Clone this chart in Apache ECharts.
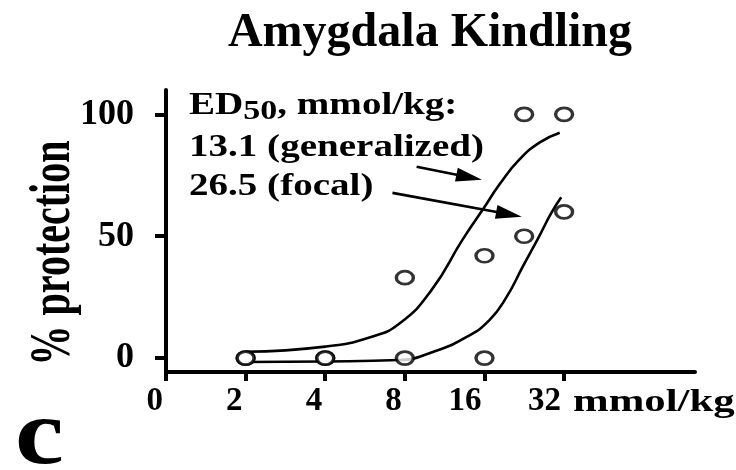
<!DOCTYPE html>
<html><head><meta charset="utf-8">
<script src="https://cdn.jsdelivr.net/npm/echarts@6/dist/echarts.min.js"></script>
<style>html,body{margin:0;padding:0;background:#fff}#c{width:736px;height:470px}</style>
</head><body><div id="c"></div>
<script>
// ---- data ----
const xTicks = [1, 2, 4, 8, 16, 32];
const xTickLabels = ['0', '2', '4', '8', '16', '32'];
const yTicks = [0, 50, 100];
const generalizedDose = [2, 4, 8, 16, 22.6, 32];
const generalizedProtection = [0, 0, 33, 42, 100, 100];
const focalDose = [2, 4, 8, 16, 22.6, 32];
const focalProtection = [0, 0, 0, 0, 50, 60];
const generalizedFitDose = [2, 4, 6, 7.7, 10.1, 13.2, 16, 18.3, 21.7, 25.9, 30.8];
const generalizedFitProtection = [2.6, 4.7, 8.8, 14.5, 28, 48.5, 62, 71.5, 81.5, 88.5, 92.5];
const focalFitDose = [2, 4, 7.6, 10.2, 13.7, 16.7, 19.4, 22.3, 25.9, 28.6, 31.2];
const focalFitProtection = [-1.6, -1.4, -0.8, 2.5, 8.7, 15.6, 25.1, 37.4, 50.5, 59.5, 66];
const arrowFrom = [[8.86, 78.5], [7.18, 67.8]];
const arrowTo = [[14.0, 74.2], [19.8, 59.0]];
const titleText = 'Amygdala Kindling';
const yName = '% protection';
const xUnit = 'mmol/kg';
const noteLine2 = '13.1 (generalized)';
const noteLine3 = '26.5 (focal)';
const panelLetter = 'c';

const FF = '"Liberation Serif","Times New Roman",serif';
const pairs = (xs, ys) => xs.map((x, i) => [x, ys[i]]);
const labelFor = v => {
  const i = xTicks.findIndex(t => Math.abs(t - v) < 1e-6 * t);
  return i >= 0 ? xTickLabels[i] : '';
};

const chart = echarts.init(document.getElementById('c'), null, {renderer: 'canvas'});
const circleStyle = {color: '#fff', borderColor: '#000', borderWidth: 3};
const txt = (extra) => Object.assign({fill: '#000', align: 'left', textAlign: 'left',
  verticalAlign: 'middle', textVerticalAlign: 'middle'}, extra);
chart.setOption({
  animation: false,
  backgroundColor: '#fff',
  grid: {left: 166, right: 41, top: 90, bottom: 98, containLabel: false, outerBoundsMode: 'none'},
  xAxis: {
    type: 'log', logBase: 2, min: 1, max: 100,
    axisLine: {show: true, onZero: false, lineStyle: {color: '#000', width: 4}},
    axisTick: {show: true, customValues: xTicks, length: 9, lineStyle: {color: '#000', width: 4}},
    axisLabel: {customValues: xTicks, formatter: labelFor, color: '#000', fontFamily: FF,
      fontWeight: 'bold', fontSize: 33, margin: 13, align: 'right', padding: [0, 3, 0, 0]},
    splitLine: {show: false}, minorTick: {show: false}
  },
  yAxis: {
    type: 'value', min: -5.7, max: 110,
    axisLine: {show: true, onZero: false, lineStyle: {color: '#000', width: 4}},
    axisTick: {show: true, customValues: yTicks, length: 11, lineStyle: {color: '#000', width: 4}},
    axisLabel: {customValues: yTicks, color: '#000', fontFamily: FF, fontWeight: 'bold',
      fontSize: 36, margin: 32},
    splitLine: {show: false}
  },
  series: [
    {type: 'line', name: 'generalized fit', data: pairs(generalizedFitDose, generalizedFitProtection),
      showSymbol: false, symbol: 'none', smooth: 0.5,
      lineStyle: {color: '#000', width: 2.6}, z: 2,
      markLine: {silent: true, symbol: 'none', symbolSize: 26,
        lineStyle: {color: '#000', width: 2.6, type: 'solid'}, label: {show: false},
        itemStyle: {color: '#000'},
        data: arrowFrom.map((f, i) => [
          {coord: f, symbol: 'none'},
          {coord: arrowTo[i], symbol: 'triangle', symbolSize: [14, 26]}
        ])}},
    {type: 'line', name: 'focal fit', data: pairs(focalFitDose, focalFitProtection),
      showSymbol: false, symbol: 'none', smooth: 0.5,
      lineStyle: {color: '#000', width: 2.6}, z: 2},
    {type: 'scatter', name: 'generalized', data: pairs(generalizedDose, generalizedProtection),
      symbol: 'circle', symbolSize: [17, 13], itemStyle: circleStyle, z: 5},
    {type: 'scatter', name: 'focal', data: pairs(focalDose, focalProtection),
      symbol: 'circle', symbolSize: [17, 13], itemStyle: circleStyle, z: 5}
  ],
  graphic: [
    {type: 'text', x: 430, y: 34,
      style: txt({text: titleText, font: `bold 48px ${FF}`, align: 'center', textAlign: 'center'})},
    {type: 'text', x: 54.5, y: 253, rotation: Math.PI / 2, scaleY: 1.4,
      style: txt({text: yName, font: `bold 40px ${FF}`, align: 'center', textAlign: 'center'})},
    {type: 'text', x: 573, y: 402.5, scaleX: 1.38,
      style: txt({text: xUnit, font: `bold 31px ${FF}`})},
    {type: 'text', x: 189, y: 90, scaleX: 1.26,
      style: txt({text: '{m|ED}{s|50}{m|, mmol/kg:}', verticalAlign: 'top', textVerticalAlign: 'top',
        rich: {
          m: {fontSize: 31, fontWeight: 'bold', fontFamily: FF, fill: '#000', verticalAlign: 'top', lineHeight: 31},
          s: {fontSize: 27, fontWeight: 'bold', fontFamily: FF, fill: '#000', verticalAlign: 'top', lineHeight: 27, padding: [9, 0, 0, 0]}
        }})},
    {type: 'text', x: 189, y: 147.5, scaleX: 1.26,
      style: txt({text: noteLine2, font: `bold 31px ${FF}`})},
    {type: 'text', x: 189, y: 186.5, scaleX: 1.26,
      style: txt({text: noteLine3, font: `bold 31px ${FF}`})},
    {type: 'text', x: 15, y: 439, scaleX: 1.17,
      style: txt({text: panelLetter, font: `bold 94px ${FF}`})}
  ]
});
</script></body></html>
